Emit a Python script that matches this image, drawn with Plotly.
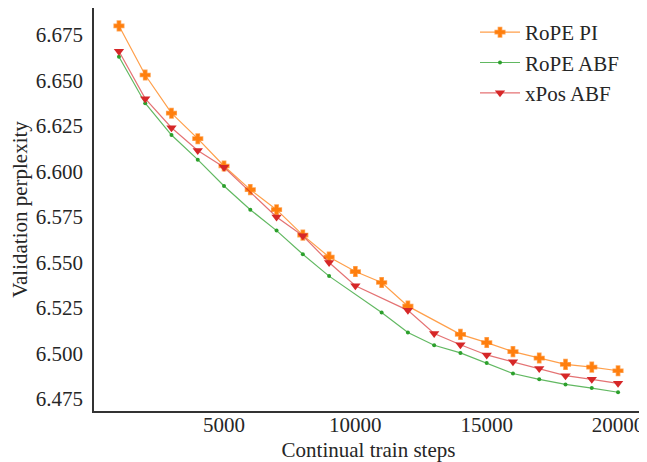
import plotly.graph_objects as go

# RoPE PI (orange) - no point at 13000
pi_steps = [1000, 2000, 3000, 4000, 5000, 6000, 7000, 8000, 9000, 10000,
            11000, 12000, 14000, 15000, 16000, 17000, 18000, 19000, 20000]
pi_ppl = [6.680, 6.653, 6.632, 6.618, 6.603, 6.590, 6.579, 6.565, 6.553, 6.545,
          6.539, 6.526, 6.5105, 6.506, 6.501, 6.4975, 6.494, 6.4925, 6.4905]

# RoPE ABF (green) - no point at 10000
abf_steps = [1000, 2000, 3000, 4000, 5000, 6000, 7000, 8000, 9000,
             11000, 12000, 13000, 14000, 15000, 16000, 17000, 18000, 19000, 20000]
abf_ppl = [6.663, 6.6375, 6.620, 6.6065, 6.592, 6.579, 6.5675, 6.5545, 6.5425,
           6.5225, 6.5115, 6.5045, 6.5003, 6.4948, 6.489, 6.4858, 6.483, 6.481, 6.4787]

# xPos ABF (red) - no points at 6000, 11000
xpos_steps = [1000, 2000, 3000, 4000, 5000, 7000, 8000, 9000, 10000,
              12000, 13000, 14000, 15000, 16000, 17000, 18000, 19000, 20000]
xpos_ppl = [6.666, 6.640, 6.624, 6.6115, 6.6023, 6.575, 6.5647, 6.550, 6.5372,
            6.5237, 6.511, 6.5048, 6.4992, 6.4955, 6.4917, 6.4878, 6.4858, 6.4836]

x_ticks = [5000, 10000, 15000, 20000]
y_ticks = [6.475, 6.500, 6.525, 6.550, 6.575, 6.600, 6.625, 6.650, 6.675]

FONT = "Liberation Serif"

fig = go.Figure()
fig.add_trace(go.Scatter(
    x=pi_steps, y=pi_ppl, name="RoPE PI", mode="lines+markers",
    line=dict(color="rgba(255,127,14,0.75)", width=1.2),
    marker=dict(symbol="cross", size=8, color="#ff7f0e",
                line=dict(color="rgba(255,127,14,0.7)", width=1.5)),
    legendgroup="a"))
fig.add_trace(go.Scatter(
    x=abf_steps, y=abf_ppl, name="RoPE ABF", mode="lines+markers",
    line=dict(color="rgba(44,160,44,0.75)", width=1.2),
    marker=dict(symbol="circle", size=4, color="#2ca02c"),
    legendgroup="b"))
fig.add_trace(go.Scatter(
    x=xpos_steps, y=xpos_ppl, name="xPos ABF", mode="lines+markers",
    line=dict(color="rgba(214,39,40,0.65)", width=1.2),
    marker=dict(symbol="triangle-down", size=9, color="#d62728"),
    legendgroup="c"))

# the page body adds an 8px offset, so the figure is drawn 8px smaller
fig.update_layout(
    width=639, height=454,
    margin=dict(l=86, r=4, t=0, b=51),
    paper_bgcolor="white", plot_bgcolor="white",
    font=dict(family=FONT, size=21, color="#262626"),
    showlegend=True,
    legend=dict(x=0.694, y=0.99, xanchor="left", yanchor="top",
                bgcolor="rgba(0,0,0,0)", borderwidth=0,
                font=dict(family=FONT, size=21, color="#262626"),
                itemwidth=40, tracegroupgap=0, traceorder="grouped"),
)
fig.update_xaxes(
    range=[50, 20950], tickmode="array", tickvals=x_ticks,
    ticktext=[str(v) for v in x_ticks],
    tickfont=dict(family=FONT, size=21, color="#262626"),
    showgrid=False, zeroline=False, ticks="", ticklen=0,
    showline=True, mirror=True, linecolor="#333333", linewidth=1.5,
    title=dict(text="Continual train steps", standoff=15,
               font=dict(family=FONT, size=21)),
    ticklabelstandoff=-6, automargin=False, ticklabeloverflow="allow",
)
fig.update_yaxes(
    range=[6.4684, 6.6898], tickmode="array", tickvals=y_ticks,
    ticktext=[f"{v:.3f}" for v in y_ticks],
    tickfont=dict(family=FONT, size=21, color="#262626"),
    showgrid=False, zeroline=False, ticks="", ticklen=0,
    showline=True, mirror=True, linecolor="#333333", linewidth=1.5,
    title=dict(text="Validation perplexity", standoff=8,
               font=dict(family=FONT, size=21)),
    ticklabelstandoff=5, automargin=False, ticklabeloverflow="allow",
)

fig.write_html("out.html")
